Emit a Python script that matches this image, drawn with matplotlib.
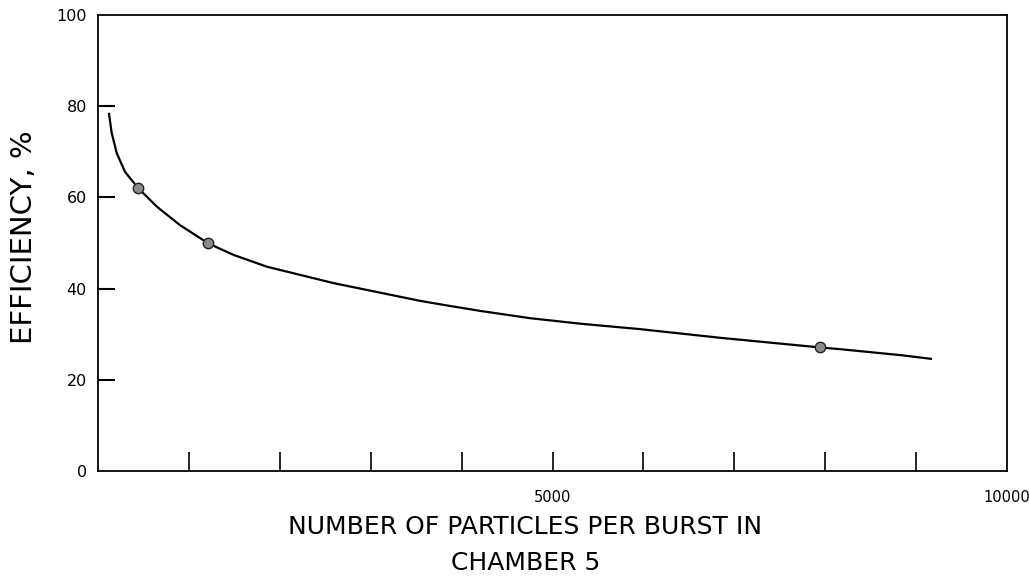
import matplotlib
matplotlib.use("Agg")
import matplotlib.pyplot as plt

# curve
curve_x = [121, 151, 206, 297, 444, 646, 903, 1215, 1490, 1858, 2225, 2592, 2959,
           3326, 3546, 3840, 4207, 4758, 5308, 5969, 6850, 7941, 8172, 8833, 9163]
curve_y = [78.3, 74.1, 69.7, 65.6, 62.0, 58.0, 53.9, 49.9, 47.4, 44.8, 43.0, 41.2, 39.7,
           38.2, 37.3, 36.3, 35.1, 33.5, 32.3, 31.1, 29.2, 27.1, 26.7, 25.4, 24.6]

# measured points
pts_x = [444, 1215, 7941]
pts_y = [62.0, 49.9, 27.1]

x_ticks = [1000, 2000, 3000, 4000, 5000, 6000, 7000, 8000, 9000, 10000]
x_labels = ['', '', '', '', '5000', '', '', '', '', '10000']
y_ticks = [0, 20, 40, 60, 80, 100]
y_labels = ['0', '20', '40', '60', '80', '100']

fig = plt.figure(figsize=(10.29, 5.76), dpi=100)
ax = fig.add_axes([98 / 1029, 1 - 471 / 576, 909 / 1029, 456 / 576])

ax.plot(curve_x, curve_y, color='black', lw=1.6, solid_joinstyle='round')
ax.plot(pts_x, pts_y, 'o', ms=7.5, mfc='#8a8a8a', mec='#222222', mew=1.0)

ax.set_xlim(0, 10000)
ax.set_ylim(0, 100)
ax.set_xticks(x_ticks)
ax.set_xticklabels(x_labels)
ax.set_yticks(y_ticks)
ax.set_yticklabels(y_labels)

ax.tick_params(axis='x', direction='in', length=14, width=1.2, pad=14, labelsize=10.5)
ax.tick_params(axis='y', direction='in', length=12, width=1.5, pad=8, labelsize=11.5)

# tick marks at the corners sit on the frame, hide them
yt = ax.yaxis.get_major_ticks()
yt[0].tick1line.set_visible(False)
yt[-1].tick1line.set_visible(False)
ax.xaxis.get_major_ticks()[-1].tick1line.set_visible(False)

for s in ax.spines.values():
    s.set_linewidth(1.3)

ax.set_ylabel('EFFICIENCY, %', fontsize=21)
ax.yaxis.set_label_coords(-0.066, 0.513)
ax.set_xlabel('NUMBER OF PARTICLES PER BURST IN\nCHAMBER 5', fontsize=18, linespacing=1.6)
ax.xaxis.set_label_coords(0.47, -0.097)
ax.xaxis.label.set_va('top')

fig.savefig('out.png', dpi=100)
